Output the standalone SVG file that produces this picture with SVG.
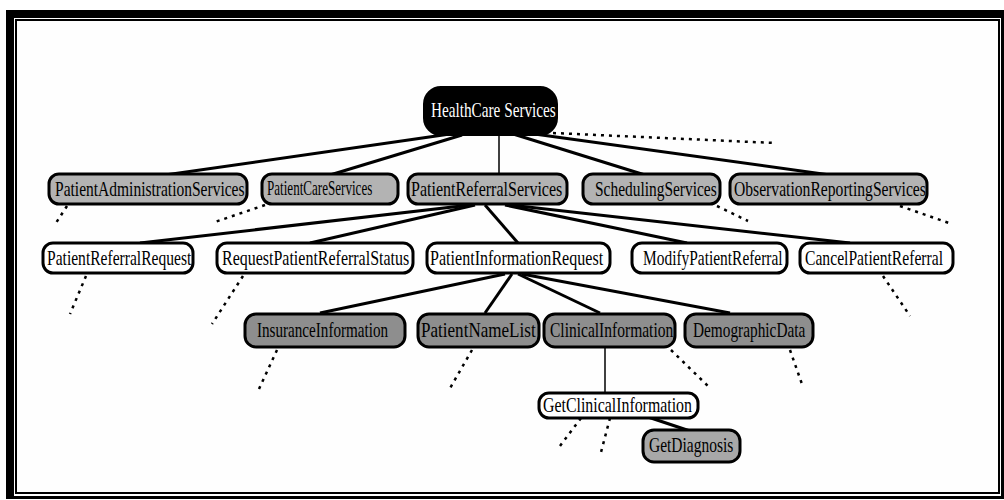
<svg xmlns="http://www.w3.org/2000/svg" width="1004" height="500" viewBox="0 0 1004 500">
  <style>
    .box { stroke: #000; stroke-width: 3; }
    .light { fill: #b3b3b3; }
    .dark { fill: #8e8e8e; }
    .mid { fill: #a8a8a8; }
    .plain { fill: #ffffff; }
    .root { fill: #000; stroke: #000; stroke-width: 2; }
    .lbl { font-family: "Liberation Serif", "Times New Roman", serif; font-size: 21px; fill: #000; }
    .lbl-root { font-family: "Liberation Serif", "Times New Roman", serif; font-size: 22px; fill: #fff; }
    .edge { stroke: #000; stroke-width: 3; fill: none; stroke-linecap: butt; }
    .thin { stroke: #000; stroke-width: 1.5; fill: none; }
    .dot { stroke: #000; stroke-width: 2.5; fill: none; stroke-dasharray: 3 5; }
  </style>

  <!-- page frame -->
  <rect x="0" y="0" width="1004" height="500" fill="#fff"/>
  <path d="M6 10 H1004 V499 H6 Z M14 18 V496 H1001 V18 Z" fill="#000" fill-rule="evenodd"/>
  <rect x="16" y="20" width="983" height="473" fill="#fefefe" stroke="#000" stroke-width="2"/>

  <!-- connectors -->
  <g id="connectors">
    <line class="edge" x1="457" y1="133" x2="165" y2="175"/>
    <line class="edge" x1="462" y1="135" x2="330" y2="175"/>
    <line class="thin" x1="499" y1="135" x2="499" y2="174"/>
    <line class="edge" x1="510" y1="133" x2="645" y2="175"/>
    <line class="edge" x1="520" y1="132" x2="830" y2="175"/>

    <line class="edge" x1="470" y1="205" x2="140" y2="243"/>
    <line class="edge" x1="475" y1="205" x2="310" y2="243"/>
    <line class="edge" x1="485" y1="205" x2="518" y2="243"/>
    <line class="edge" x1="505" y1="205" x2="687" y2="243"/>
    <line class="edge" x1="510" y1="205" x2="850" y2="243"/>

    <line class="edge" x1="505" y1="274" x2="320" y2="313"/>
    <line class="edge" x1="512" y1="274" x2="485" y2="313"/>
    <line class="edge" x1="518" y1="274" x2="600" y2="313"/>
    <line class="edge" x1="522" y1="274" x2="730" y2="313"/>

    <line class="thin" x1="605" y1="347" x2="605" y2="393"/>
    <line class="edge" x1="648" y1="417" x2="690" y2="431"/>

    <!-- collapsed branches -->
    <line class="dot" x1="553" y1="133" x2="775" y2="143"/>
    <line class="dot" x1="67" y1="206" x2="54" y2="226"/>
    <line class="dot" x1="265" y1="205" x2="212" y2="223"/>
    <line class="dot" x1="717" y1="206" x2="748" y2="221"/>
    <line class="dot" x1="900" y1="206" x2="949" y2="223"/>
    <line class="dot" x1="86" y1="276" x2="70" y2="314"/>
    <line class="dot" x1="243" y1="276" x2="212" y2="324"/>
    <line class="dot" x1="883" y1="276" x2="910" y2="316"/>
    <line class="dot" x1="277" y1="350" x2="259" y2="389"/>
    <line class="dot" x1="472" y1="350" x2="449" y2="390"/>
    <line class="dot" x1="671" y1="350" x2="710" y2="388"/>
    <line class="dot" x1="790" y1="350" x2="803" y2="387"/>
    <line class="dot" x1="581" y1="418" x2="560" y2="446"/>
    <line class="dot" x1="610" y1="418" x2="600" y2="456"/>
  </g>

  <!-- root (labels use a horizontally condensed serif) -->
  <g id="healthcare-services">
    <rect class="root" x="424" y="87" width="133" height="48" rx="17"/>
    <text class="lbl-root" transform="matrix(0.78 0 0 1 431 117)" textLength="160" lengthAdjust="spacingAndGlyphs">HealthCare Services</text>
  </g>

  <!-- level 1 -->
  <g id="patient-administration-services">
    <rect class="box light" x="49" y="174" width="198" height="30" rx="10"/>
    <text class="lbl" transform="matrix(0.78 0 0 1 55 196)" textLength="243" lengthAdjust="spacingAndGlyphs">PatientAdministrationServices</text>
  </g>
  <g id="patient-care-services">
    <rect class="box light" x="262" y="174" width="136" height="30" rx="10"/>
    <text class="lbl" font-size="19" transform="matrix(0.78 0 0 1 267 195)" textLength="135" lengthAdjust="spacingAndGlyphs">PatientCareServices</text>
  </g>
  <g id="patient-referral-services">
    <rect class="box light" x="408" y="174" width="159" height="30" rx="10"/>
    <text class="lbl" transform="matrix(0.78 0 0 1 411 196)" textLength="194" lengthAdjust="spacingAndGlyphs">PatientReferralServices</text>
  </g>
  <g id="scheduling-services">
    <rect class="box light" x="583" y="174" width="137" height="30" rx="10"/>
    <text class="lbl" transform="matrix(0.78 0 0 1 595 196)" textLength="156" lengthAdjust="spacingAndGlyphs">SchedulingServices</text>
  </g>
  <g id="observation-reporting-services">
    <rect class="box light" x="730" y="174" width="197" height="30" rx="10"/>
    <text class="lbl" transform="matrix(0.78 0 0 1 734 196)" textLength="246" lengthAdjust="spacingAndGlyphs">ObservationReportingServices</text>
  </g>

  <!-- level 2 -->
  <g id="patient-referral-request">
    <rect class="box plain" x="43" y="243" width="150" height="30" rx="10"/>
    <text class="lbl" transform="matrix(0.78 0 0 1 47 265)" textLength="185" lengthAdjust="spacingAndGlyphs">PatientReferralRequest</text>
  </g>
  <g id="request-patient-referral-status">
    <rect class="box plain" x="217" y="243" width="196" height="30" rx="10"/>
    <text class="lbl" transform="matrix(0.78 0 0 1 222 265)" textLength="240" lengthAdjust="spacingAndGlyphs">RequestPatientReferralStatus</text>
  </g>
  <g id="patient-information-request">
    <rect class="box plain" x="427" y="243" width="183" height="30" rx="10"/>
    <text class="lbl" transform="matrix(0.78 0 0 1 430 265)" textLength="222" lengthAdjust="spacingAndGlyphs">PatientInformationRequest</text>
  </g>
  <g id="modify-patient-referral">
    <rect class="box plain" x="632" y="243" width="155" height="30" rx="10"/>
    <text class="lbl" transform="matrix(0.78 0 0 1 643 265)" textLength="179" lengthAdjust="spacingAndGlyphs">ModifyPatientReferral</text>
  </g>
  <g id="cancel-patient-referral">
    <rect class="box plain" x="800" y="243" width="153" height="30" rx="10"/>
    <text class="lbl" transform="matrix(0.78 0 0 1 805 265)" textLength="177" lengthAdjust="spacingAndGlyphs">CancelPatientReferral</text>
  </g>

  <!-- level 3 -->
  <g id="insurance-information">
    <rect class="box dark" x="245" y="314" width="160" height="33" rx="11"/>
    <text class="lbl" font-size="20" transform="matrix(0.78 0 0 1 257 337)" textLength="168" lengthAdjust="spacingAndGlyphs">InsuranceInformation</text>
  </g>
  <g id="patient-name-list">
    <rect class="box dark" x="418" y="314" width="121" height="33" rx="11"/>
    <text class="lbl" font-size="20" transform="matrix(0.78 0 0 1 421 337)" textLength="147" lengthAdjust="spacingAndGlyphs">PatientNameList</text>
  </g>
  <g id="clinical-information">
    <rect class="box dark" x="544" y="314" width="131" height="33" rx="11"/>
    <text class="lbl" font-size="20" transform="matrix(0.78 0 0 1 550 337)" textLength="158" lengthAdjust="spacingAndGlyphs">ClinicalInformation</text>
  </g>
  <g id="demographic-data">
    <rect class="box dark" x="685" y="314" width="128" height="33" rx="11"/>
    <text class="lbl" font-size="20" transform="matrix(0.78 0 0 1 693 337)" textLength="144" lengthAdjust="spacingAndGlyphs">DemographicData</text>
  </g>

  <!-- level 4 -->
  <g id="get-clinical-information">
    <rect class="box plain" x="539" y="393" width="159" height="25" rx="10"/>
    <text class="lbl" font-size="19" transform="matrix(0.78 0 0 1 543 412)" textLength="191" lengthAdjust="spacingAndGlyphs">GetClinicalInformation</text>
  </g>
  <g id="get-diagnosis">
    <rect class="box mid" x="643" y="430" width="97" height="32" rx="11"/>
    <text class="lbl" font-size="20" transform="matrix(0.78 0 0 1 649 452)" textLength="108" lengthAdjust="spacingAndGlyphs">GetDiagnosis</text>
  </g>
</svg>
